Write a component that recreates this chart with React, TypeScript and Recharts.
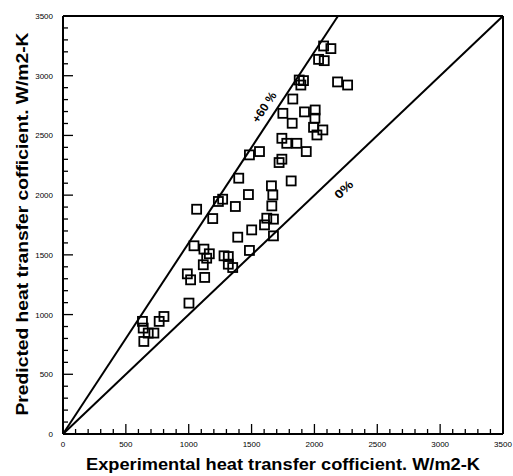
import React from "react";
import {
  ScatterChart,
  Scatter,
  XAxis,
  YAxis,
  ReferenceLine,
  Label,
} from "recharts";

// measured points (experimental vs predicted)
const expValues = [
  2073, 2131, 2033, 2078, 1879, 1913, 1892, 2184, 2264, 1828, 1749, 1921, 2006,
  2004, 1823, 1993, 2067, 2020, 1741, 1780, 1860, 1483, 1563, 1935, 1741, 1719,
  1398, 1815, 1658, 1669, 1475, 1270, 1236, 1063, 1371, 1661, 1191, 1621, 1674,
  1603, 1501, 1390, 1674, 1042, 1121, 1164, 1143, 1281, 1315, 1483, 1116, 1315,
  1350, 989, 1015, 1127, 1002, 632, 803, 765, 638, 678, 723, 643,
];
const predValues = [
  3249, 3227, 3137, 3126, 2964, 2959, 2922, 2948, 2922, 2805, 2685, 2697, 2713,
  2644, 2602, 2568, 2546, 2504, 2476, 2434, 2434, 2337, 2365, 2365, 2301, 2273,
  2142, 2119, 2078, 2002, 2005, 1966, 1947, 1882, 1905, 1910, 1804, 1807, 1799,
  1751, 1709, 1648, 1659, 1576, 1548, 1509, 1472, 1492, 1486, 1537, 1417, 1422,
  1394, 1341, 1291, 1311, 1096, 943, 984, 943, 887, 845, 845, 775,
];

const majorTicks = [0, 500, 1000, 1500, 2000, 2500, 3000, 3500];
const allTicks = Array.from({ length: 36 }, (_, i) => i * 100);

const lineZero = [
  { x: 0, y: 0 },
  { x: 3500, y: 3500 },
];
const linePlus60 = [
  { x: 0, y: 0 },
  { x: 2187.5, y: 3500 },
];

const lineLabels = [
  { x: 1601, y: 2736, text: "+60 %", angle: -56.7, len: 34 },
  { x: 2234, y: 2046, text: "0%", angle: -43.6, len: 21 },
];

const points = expValues.map((x, i) => ({ x, y: predValues[i] }));

const FONT = "'Liberation Sans', Arial, sans-serif";

const SquareMarker = (props: any) => {
  const { cx, cy } = props;
  return (
    <rect
      x={cx - 4.5}
      y={cy - 4.5}
      width={9}
      height={9}
      fill="none"
      stroke="#000"
      strokeWidth={1.8}
    />
  );
};

const LineText = (props: any) => {
  const { cx, cy, payload } = props;
  return (
    <text
      x={cx}
      y={cy}
      textAnchor="middle"
      dominantBaseline="central"
      fontFamily={FONT}
      fontSize={12}
      fontWeight="bold"
      fill="#000"
      textLength={payload.len}
      lengthAdjust="spacingAndGlyphs"
      transform={`rotate(${payload.angle}, ${cx}, ${cy})`}
    >
      {payload.text}
    </text>
  );
};

const XTick = (props: any) => {
  const { x, y, payload } = props;
  const major = majorTicks.includes(payload.value);
  return (
    <g>
      <line x1={x} y1={y} x2={x} y2={y - (major ? 10 : 5)} stroke="#000" strokeWidth={1.3} />
      {major && (
        <text x={x} y={y + 13} textAnchor="middle" fontFamily={FONT} fontSize={8} fill="#000">
          {payload.value}
        </text>
      )}
    </g>
  );
};

const YTick = (props: any) => {
  const { x, y, payload } = props;
  const major = majorTicks.includes(payload.value);
  return (
    <g>
      <line x1={x} y1={y} x2={x + (major ? 10 : 5)} y2={y} stroke="#000" strokeWidth={1.3} />
      {major && (
        <text x={x - 10} y={y + 3} textAnchor="end" fontFamily={FONT} fontSize={8} fill="#000">
          {payload.value}
        </text>
      )}
    </g>
  );
};

export default function App() {
  return (
    <div style={{ position: "absolute", left: 0, top: 0, background: "#fff" }}>
      <ScatterChart
        width={513}
        height={476}
        margin={{ top: 16, right: 10, left: 0, bottom: 0 }}
      >
        <XAxis
          type="number"
          dataKey="x"
          domain={[0, 3500]}
          ticks={allTicks}
          interval={0}
          height={42}
          tickSize={0}
          tickMargin={0}
          tickLine={false}
          axisLine={{ stroke: "#000", strokeWidth: 2 }}
          tick={<XTick />}
          allowDataOverflow
        >
          <Label
            content={(p: any) => {
              const vb = p.viewBox;
              return (
                <text
                  x={vb.x + vb.width / 2}
                  y={vb.y + 36}
                  textAnchor="middle"
                  fontFamily={FONT}
                  fontSize={17}
                  fontWeight="bold"
                  fill="#000"
                  textLength={394}
                  lengthAdjust="spacingAndGlyphs"
                >
                  Experimental heat transfer cofficient. W/m2-K
                </text>
              );
            }}
          />
        </XAxis>
        <YAxis
          type="number"
          dataKey="y"
          domain={[0, 3500]}
          ticks={allTicks}
          interval={0}
          width={63}
          tickSize={0}
          tickMargin={0}
          tickLine={false}
          axisLine={{ stroke: "#000", strokeWidth: 2 }}
          tick={<YTick />}
          allowDataOverflow
        >
          <Label
            content={(p: any) => {
              const vb = p.viewBox;
              const cx = vb.x + 28;
              const cy = vb.y + vb.height / 2 - 1;
              return (
                <text
                  x={cx}
                  y={cy}
                  textAnchor="middle"
                  fontFamily={FONT}
                  fontSize={17}
                  fontWeight="bold"
                  fill="#000"
                  textLength={383}
                  lengthAdjust="spacingAndGlyphs"
                  transform={`rotate(-90, ${cx}, ${cy})`}
                >
                  Predicted heat transfer cofficient. W/m2-K
                </text>
              );
            }}
          />
        </YAxis>
        <ReferenceLine y={3500} stroke="#000" strokeWidth={2} />
        <ReferenceLine x={3500} stroke="#000" strokeWidth={2} />
        <ReferenceLine segment={lineZero} stroke="#000" strokeWidth={2} />
        <ReferenceLine segment={linePlus60} stroke="#000" strokeWidth={2} />
        <Scatter
          data={points}
          shape={<SquareMarker />}
          isAnimationActive={false}
        />
        <Scatter
          data={lineLabels}
          shape={<LineText />}
          isAnimationActive={false}
        />
      </ScatterChart>
    </div>
  );
}
